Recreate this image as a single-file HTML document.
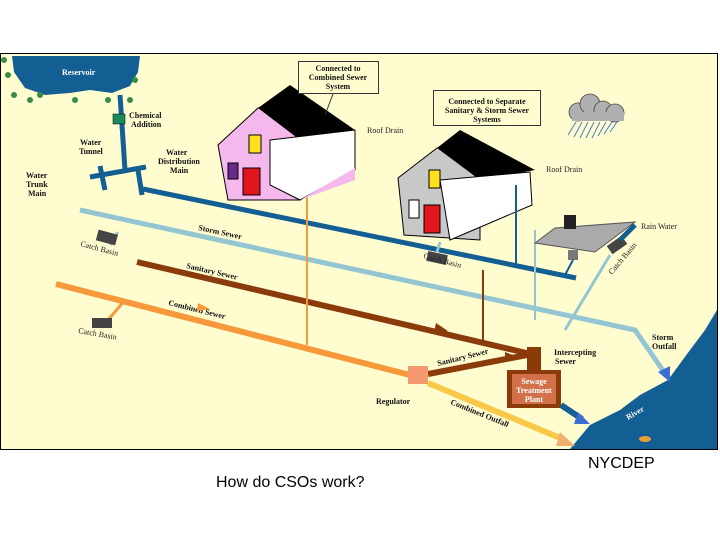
<!DOCTYPE html>
<html><head><meta charset="utf-8"><style>
body{margin:0;background:#fff;width:720px;height:540px;overflow:hidden;position:relative;font-family:"Liberation Sans",sans-serif}
svg{position:absolute;left:0;top:0}
.t{font-family:"Liberation Serif",serif;font-size:8px;font-weight:bold;fill:#111}
.n{font-family:"Liberation Serif",serif;font-size:8px;fill:#222}
</style></head><body>
<svg width="720" height="540" viewBox="0 0 720 540">
<rect x="0.5" y="53.5" width="717" height="396" fill="#fffdd0" stroke="#000"/>
<!-- river -->
<path d="M570 449 L590 425 L620 410 L640 395 L668 380 L690 350 L705 330 L717 310 L717 449 Z" fill="#135e93"/>
<text x="628" y="420" class="t" style="fill:#fff" transform="rotate(-30 628 420)">River</text>
<ellipse cx="645" cy="439" rx="6" ry="3" fill="#e8a030"/>
<!-- reservoir -->
<path d="M12 56 L140 56 L138 72 L130 86 L112 93 L90 90 L70 93 L45 95 L25 88 L14 72 Z" fill="#135e93"/>
<text x="62" y="75" class="t" style="fill:#fff">Reservoir</text>
<g fill="#3a8a4a"><circle cx="8" cy="75" r="3"/><circle cx="14" cy="95" r="3"/><circle cx="30" cy="100" r="3"/><circle cx="75" cy="100" r="3"/><circle cx="108" cy="100" r="3"/><circle cx="135" cy="80" r="3"/><circle cx="130" cy="100" r="3"/><circle cx="4" cy="60" r="3"/><circle cx="40" cy="95" r="3"/></g>
<!-- water tunnel -->
<g stroke="#135e93" stroke-width="5" fill="none">
<path d="M120 95 L125 170"/><path d="M90 177 L146 167"/><path d="M100 166 L105 190"/><path d="M138 170 L142 195"/>
<path d="M143 189 L576 278"/>
</g>
<rect x="113" y="114" width="12" height="10" fill="#1a8a5a" stroke="#000" stroke-width="0.5"/>
<text x="129" y="118" class="t">Chemical</text><text x="131" y="127" class="t">Addition</text>
<text x="80" y="145" class="t">Water</text><text x="79" y="154" class="t">Tunnel</text>
<text x="26" y="178" class="t">Water</text><text x="26" y="187" class="t">Trunk</text><text x="28" y="196" class="t">Main</text>
<text x="166" y="155" class="t">Water</text><text x="158" y="164" class="t">Distribution</text><text x="170" y="173" class="t">Main</text>
<!-- storm sewer -->
<path d="M80 210 L635 330 L664 372" stroke="#94c6d2" stroke-width="5" fill="none"/>
<path d="M658 372 L670 382 L670 366 Z" fill="#3a6ed0"/>
<path d="M110 245 L118 232" stroke="#94c6d2" stroke-width="3"/>
<path d="M437 252 L440 242" stroke="#94c6d2" stroke-width="3"/>
<path d="M535 320 L535 230" stroke="#94c6d2" stroke-width="2"/>
<path d="M565 330 L610 255" stroke="#94c6d2" stroke-width="3"/>
<text x="198" y="230" class="t" transform="rotate(12 198 230)">Storm Sewer</text>
<!-- sanitary -->
<path d="M137 262 L535 355" stroke="#8b3a0a" stroke-width="6" fill="none"/>
<path d="M483 345 L483 270" stroke="#8b3a0a" stroke-width="2"/>
<text x="186" y="268" class="t" transform="rotate(13 186 268)">Sanitary Sewer</text>
<!-- combined -->
<path d="M56 284 L410 375" stroke="#f7983a" stroke-width="6" fill="none"/>
<path d="M108 320 L125 300" stroke="#f7983a" stroke-width="3"/>
<path d="M307 345 L307 180 L352 165" stroke="#f7983a" stroke-width="2" fill="none"/>
<text x="168" y="305" class="t" transform="rotate(14 168 305)">Combined Sewer</text>
<!-- regulator -->
<path d="M428 383 L565 440" stroke="#f8c848" stroke-width="6"/>
<path d="M560 432 L575 446 L556 446 Z" fill="#f0b070"/>
<path d="M428 374 L527 355" stroke="#8b3a0a" stroke-width="6"/>
<rect x="408" y="366" width="20" height="18" fill="#f59a70"/>
<text x="376" y="404" class="t">Regulator</text>
<text x="438" y="366" class="t" transform="rotate(-14 438 366)">Sanitary Sewer</text>
<text x="450" y="404" class="t" transform="rotate(22 450 404)">Combined Outfall</text>
<rect x="527" y="347" width="14" height="25" fill="#8b3a0a"/>
<rect x="507" y="370" width="54" height="38" fill="#8b3a0a"/>
<rect x="512" y="374" width="44" height="30" fill="#d2704a"/>
<text x="534" y="384" class="t" text-anchor="middle" style="fill:#fff">Sewage</text>
<text x="534" y="393" class="t" text-anchor="middle" style="fill:#fff">Treatment</text>
<text x="534" y="402" class="t" text-anchor="middle" style="fill:#fff">Plant</text>
<path d="M561 405 L582 419" stroke="#135e93" stroke-width="6"/>
<path d="M578 412 L590 424 L574 424 Z" fill="#3a6ed0"/>
<text x="554" y="355" class="t">Intercepting</text><text x="555" y="364" class="t">Sewer</text>
<text x="652" y="340" class="t">Storm</text><text x="652" y="349" class="t">Outfall</text>
<!-- arrows -->
<g fill="#8b3a0a"><path d="M436 323 L448 331 L434 332Z"/><path d="M505 352 L518 357 L505 362Z"/></g>
<path d="M198 303 L210 309 L197 311Z" fill="#f7983a"/>
<!-- catch basins -->
<g fill="#444"><rect x="97" y="232" width="20" height="11" transform="rotate(15 107 237)"/><rect x="92" y="318" width="20" height="10"/><rect x="427" y="253" width="20" height="10" transform="rotate(12 437 258)"/><rect x="608" y="240" width="18" height="10" transform="rotate(-35 617 245)"/></g>
<text x="80" y="246" class="n" transform="rotate(15 80 246)">Catch Basin</text>
<text x="78" y="333" class="n" transform="rotate(10 78 333)">Catch Basin</text>
<text x="423" y="258" class="n" transform="rotate(15 423 258)">Catch Basin</text>
<text x="612" y="275" class="n" transform="rotate(-50 612 275)">Catch Basin</text>
<!-- house 1 -->
<path d="M218 145 L258 108 L300 108 L300 200 L228 200 Z" fill="#f5b8ec" stroke="#000" stroke-width="1"/>
<path d="M258 108 L290 85 L355 130 L300 140 Z" fill="#000"/>
<path d="M270 140 L355 130 L355 170 L300 200 L270 185 Z" fill="#fff" stroke="#000" stroke-width="1"/>
<path d="M300 200 L355 180 L355 168 Z" fill="#f5b8ec"/>
<rect x="249" y="135" width="12" height="18" fill="#ffe020" stroke="#000"/>
<rect x="243" y="168" width="17" height="27" fill="#e0161c" stroke="#000"/>
<rect x="228" y="163" width="10" height="16" fill="#6a2a8a" stroke="#000"/>
<text x="367" y="133" class="n">Roof Drain</text>
<rect x="298.5" y="61.5" width="80" height="32" fill="#fffdd0" stroke="#333"/>
<text x="338" y="71" class="t" text-anchor="middle">Connected to</text><text x="338" y="80" class="t" text-anchor="middle">Combined Sewer</text><text x="338" y="89" class="t" text-anchor="middle">System</text>
<path d="M333 94 L325 115" stroke="#333"/>
<!-- house 2 -->
<path d="M398 178 L437 148 L480 148 L480 240 L404 235 Z" fill="#c8c8c8" stroke="#000"/>
<path d="M437 148 L460 130 L535 170 L480 180 Z" fill="#000"/>
<path d="M440 180 L530 172 L532 205 L450 240 Z" fill="#fff" stroke="#000"/>
<rect x="429" y="170" width="11" height="18" fill="#ffe020" stroke="#000"/>
<rect x="424" y="205" width="16" height="28" fill="#e0161c" stroke="#000"/>
<rect x="409" y="200" width="10" height="18" fill="#fff" stroke="#000"/>
<path d="M516 185 L516 265" stroke="#135e93" stroke-width="2"/>
<text x="546" y="172" class="n">Roof Drain</text>
<rect x="433.5" y="90.5" width="107" height="35" fill="#fffdd0" stroke="#333"/>
<text x="487" y="104" class="t" text-anchor="middle">Connected to Separate</text><text x="487" y="113" class="t" text-anchor="middle">Sanitary &amp; Storm Sewer</text><text x="487" y="122" class="t" text-anchor="middle">Systems</text>
<!-- cloud -->
<g fill="#b0b0b0" stroke="#444" stroke-width="0.8"><circle cx="578" cy="112" r="9"/><circle cx="590" cy="104" r="10"/><circle cx="603" cy="110" r="9"/><circle cx="615" cy="113" r="9"/><rect x="572" y="112" width="52" height="9" stroke="none"/></g>
<g stroke="#4a7ad0" stroke-width="1"><path d="M568 135 L576 122 M574 137 L582 122 M580 138 L588 122 M586 138 L594 122 M592 138 L600 122 M598 136 L606 122 M604 134 L612 122 M610 132 L617 122"/></g>
<!-- shed -->
<path d="M535 243 L555 228 L635 222 L595 252 Z" fill="#aaa" stroke="#555"/>
<rect x="564" y="215" width="12" height="14" fill="#222"/>
<rect x="568" y="250" width="10" height="10" fill="#777"/>
<path d="M573 260 L565 275" stroke="#135e93" stroke-width="2"/>
<path d="M620 240 L635 225" stroke="#135e93" stroke-width="5"/>
<text x="641" y="229" class="n">Rain Water</text>
</svg>
<div style="position:absolute;left:216px;top:474px;font-size:16px;color:#000">How do CSOs work?</div>
<div style="position:absolute;left:588px;top:455px;font-size:16px;color:#000">NYCDEP</div>
</body></html>
